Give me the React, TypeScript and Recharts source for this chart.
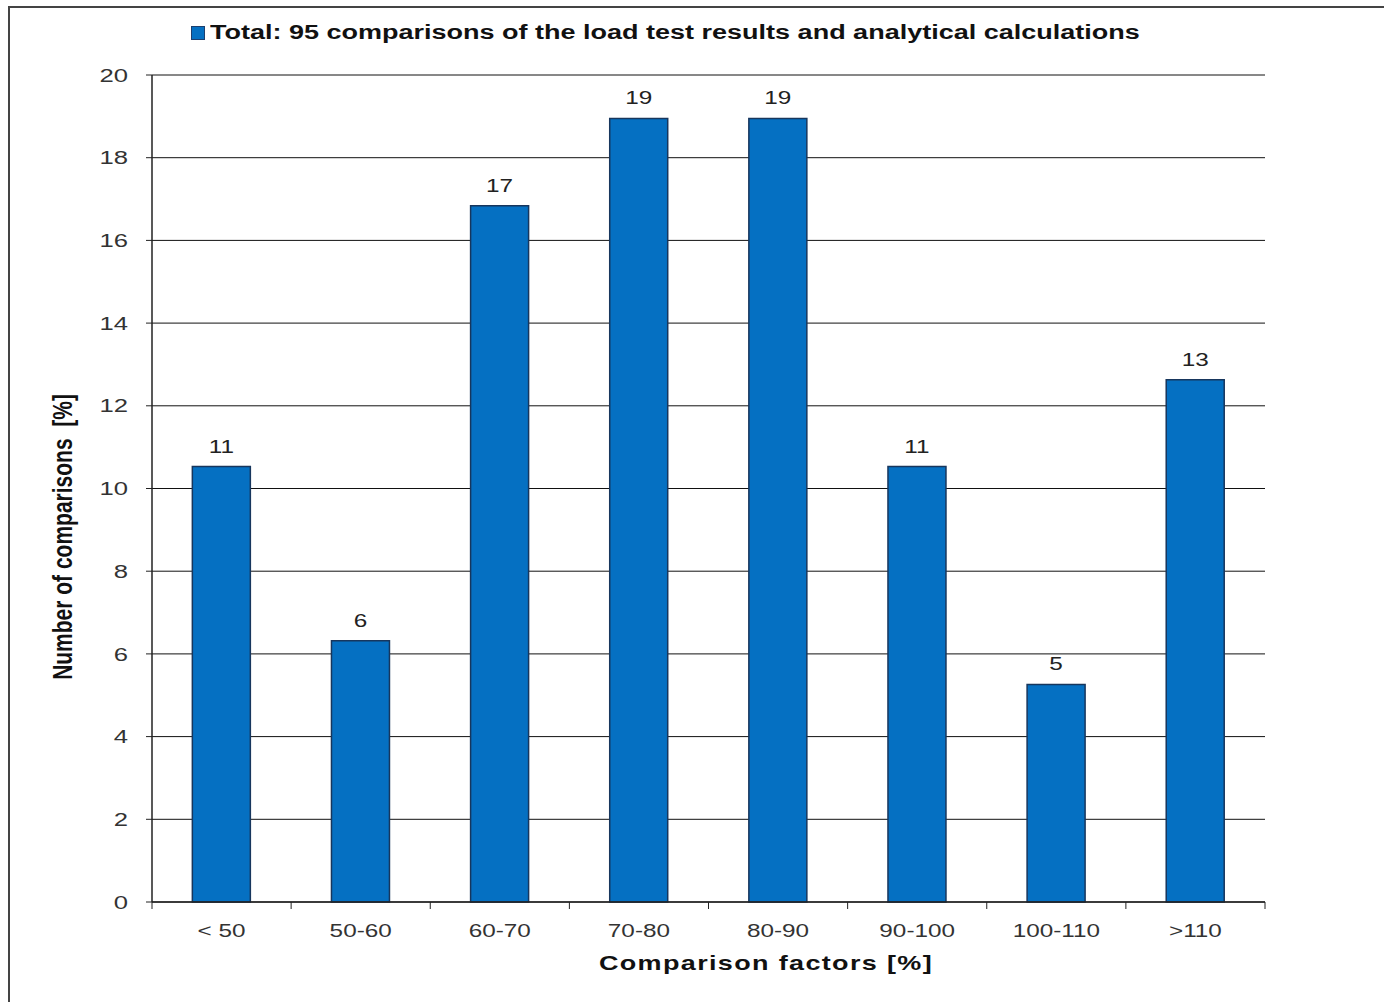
import { Bar, BarChart, CartesianGrid, LabelList, Legend, XAxis, YAxis } from "recharts";

// share of the 95 comparisons per comparison-factor class, in %
const categories = ["< 50", "50-60", "60-70", "70-80", "80-90", "90-100", "100-110", ">110"];
const shares = [10.53, 6.32, 16.84, 18.95, 18.95, 10.53, 5.26, 12.63];
const yTicks = [0, 2, 4, 6, 8, 10, 12, 14, 16, 18, 20];

const seriesName = "Total: 95 comparisons of the load test results and analytical calculations";
const yTitle = "Number of comparisons  [%]";
const xTitle = "Comparison factors [%]";

const data = categories.map((c, i) => ({ cat: c, share: shares[i] }));

const BLUE = "#0570c2";
const FONT = "'Liberation Sans', Arial, sans-serif";
const STRETCH = 1.35; // the source image is stretched horizontally
const X_TICK_MARGIN = 22;

// scale text horizontally around its anchor point
const stretchAt = (x: number) => `translate(${x} 0) scale(${STRETCH} 1) translate(${-x} 0)`;

// label at the band centre, Excel-style tick marks on the band boundaries
function XTick({ x, y, payload, index }: any) {
  const half = Number(payload.offset) || 0;
  const axisY = y - X_TICK_MARGIN;
  const left = x - half;
  const right = x + half;
  return (
    <g>
      <line x1={left} x2={left} y1={axisY} y2={axisY + 7} stroke="#222" />
      {index === categories.length - 1 && <line x1={right} x2={right} y1={axisY} y2={axisY + 7} stroke="#222" />}
      <text x={x} y={y} dy="0.71em" textAnchor="middle" fontFamily={FONT} fontSize={18} fill="#333" transform={stretchAt(x)}>
        {payload.value}
      </text>
    </g>
  );
}

function YTick({ x, y, payload }: any) {
  return (
    <text x={x} y={y} dy="0.35em" textAnchor="end" fontFamily={FONT} fontSize={19} fill="#333" transform={stretchAt(x)}>
      {payload.value}
    </text>
  );
}

function BarValue({ x, y, width, value }: any) {
  const cx = Number(x) + Number(width) / 2;
  return (
    <text x={cx} y={Number(y) - 14} textAnchor="middle" fontFamily={FONT} fontSize={18} fill="#222" transform={stretchAt(cx)}>
      {Math.round(Number(value))}
    </text>
  );
}

function LegendBox() {
  return (
    <div style={{ display: "flex", alignItems: "center", marginLeft: 191, fontFamily: FONT }}>
      <span style={{ width: 12, height: 12, background: BLUE, border: "1px solid #1d3f6e", marginRight: 5 }} />
      <span
        style={{
          fontSize: 20,
          fontWeight: "bold",
          color: "#111",
          whiteSpace: "nowrap",
          display: "inline-block",
          transform: `scaleX(${STRETCH})`,
          transformOrigin: "left center",
        }}
      >
        {seriesName}
      </span>
    </div>
  );
}

export default function App() {
  return (
    <div style={{ position: "absolute", left: 0, top: 0, width: 1384, height: 1002, background: "#fff", overflow: "hidden" }}>
      <div
        style={{
          position: "absolute",
          left: 8,
          top: 6,
          width: 1384,
          height: 1002,
          borderLeft: "2px solid #444",
          borderTop: "2px solid #444",
        }}
      />
      <BarChart
        width={1384}
        height={1002}
        data={data}
        margin={{ top: 75, right: 119, bottom: 0, left: 0 }}
        barCategoryGap="29%"
        style={{ position: "absolute", left: 0, top: 0 }}
      >
        <CartesianGrid vertical={false} stroke="#111" strokeWidth={1} />
        <Legend
          verticalAlign="middle"
          align="center"
          layout="horizontal"
          wrapperStyle={{ top: 21, left: 0, width: 1384 }}
          content={() => <LegendBox />}
        />
        <XAxis
          dataKey="cat"
          height={100}
          axisLine={{ stroke: "#222", strokeWidth: 1.5 }}
          tickLine={false}
          tickSize={0}
          tickMargin={X_TICK_MARGIN}
          interval={0}
          tick={<XTick />}
          label={() => (
            <text
              x={766}
              y={970}
              textAnchor="middle"
              fontFamily={FONT}
              fontSize={20}
              fontWeight="bold"
              fill="#111"
              letterSpacing={1}
              transform={stretchAt(766)}
            >
              {xTitle}
            </text>
          )}
        />
        <YAxis
          width={152}
          domain={[0, 20]}
          ticks={yTicks}
          interval={0}
          tickSize={6}
          tickMargin={18}
          axisLine={{ stroke: "#222", strokeWidth: 1.5 }}
          tickLine={{ stroke: "#222" }}
          tick={<YTick />}
          label={() => (
            <text
              x={0}
              y={0}
              dy="0.35em"
              transform={`translate(62 537) scale(1.3 1) rotate(-90)`}
              textAnchor="middle"
              fontFamily={FONT}
              fontSize={21}
              fontWeight="bold"
              fill="#111"
              style={{ whiteSpace: "pre" }}
            >
              {yTitle}
            </text>
          )}
        />
        <YAxis
          yAxisId="frame"
          orientation="right"
          width={0}
          domain={[0, 20]}
          tick={false}
          tickLine={false}
          axisLine={{ stroke: "#222", strokeWidth: 1.5 }}
        />
        <Bar dataKey="share" fill={BLUE} stroke="#17365d" strokeWidth={1.5} isAnimationActive={false}>
          <LabelList dataKey="share" content={<BarValue />} />
        </Bar>
      </BarChart>
    </div>
  );
}
